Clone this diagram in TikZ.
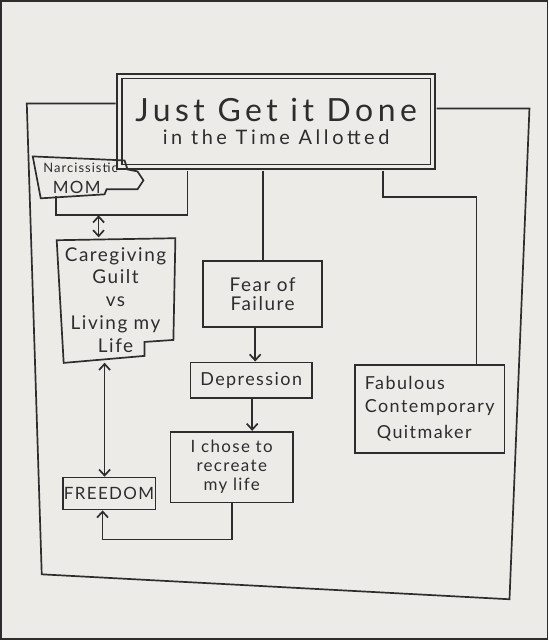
\documentclass[tikz,border=0pt]{standalone}
\usepackage{fontspec}
\setmainfont{Lato}[LetterSpace=8]
\newfontfamily\titlefont{Lato}[LetterSpace=14]
\usetikzlibrary{arrows.meta}
\definecolor{paper}{RGB}{236,235,232}
\definecolor{ink}{RGB}{45,45,45}
\begin{document}
\begin{tikzpicture}[x=1pt,y=-1pt,
  line width=1.7pt,
  every path/.style={draw=ink, line width=1.7pt},
  every node/.style={text=ink},
  box/.style={draw=ink, rectangle, inner sep=0pt, align=center, font=\fontsize{18}{21}\selectfont},
  plain/.style={rectangle, inner sep=0pt, align=center},
  arr/.style={-{Straight Barb[length=6pt,width=11pt]}},
  dbl/.style={{Straight Barb[length=6pt,width=11pt]}-{Straight Barb[length=6pt,width=11pt]}}]
\fill[paper, draw=none] (0,0) rectangle (548,640);
\useasboundingbox (0,0) rectangle (548,640);

% title
\node[box, double=paper, double distance=3pt, minimum width=314pt, minimum height=91pt] (title) at (276,121)
  {\titlefont\fontsize{32}{30}\selectfont Just Get it Done\\[2pt]\titlefont\addfontfeatures{LetterSpace=18}\fontsize{20}{22}\selectfont in the Time Allotted};

% narcissistic mom
\node[plain, font=\fontsize{13}{14}\selectfont] (mom) at (80,167) {Narcissistic};
\node[plain, font=\fontsize{17}{18}\selectfont] (mom2) at (76,187) {MOM};
\draw (32,156) -- (124,160) -- (127,169) -- (137,171) -- (143,180) -- (137,189) -- (106,189) -- (104,194) -- (40,198) -- cycle;

% caregiving guilt
\node[plain, minimum width=119pt, minimum height=124pt, font=\fontsize{19}{23}\selectfont] (care) at (115,300) {Caregiving\\Guilt\\vs\\Living my\\Life};
\draw (56,240) -- (175,238) -- (173,340) -- (144,342) -- (144,356) -- (63,363) -- cycle;

\node[box, minimum width=93pt, minimum height=32pt, font=\fontsize{17}{20}\selectfont] (free) at (108.5,494) {FREEDOM};
\node[box, minimum width=119pt, minimum height=66pt, font=\fontsize{19}{19}\selectfont] (fear) at (262.5,294) {Fear of\\Failure};
\node[box, minimum width=122pt, minimum height=36pt] (dep) at (251,380.5) {Depression};
\node[box, minimum width=123pt, minimum height=71pt, font=\fontsize{17}{19}\selectfont] (ichose) at (231.5,467.5) {I chose to\\recreate\\my life};
\node[box, minimum width=150pt, minimum height=88pt, align=left] (fab) at (430,409) {Fabulous\\[2pt]Contemporary\\[6pt]\hspace{12pt}Quitmaker};

% outer loop
\coordinate (o1) at (26,103);
\coordinate (o2) at (41,575);
\coordinate (o3) at (510,600);
\coordinate (o4) at (530,108);
\draw ([xshift=-3pt]o1 -| title.west) -- (o1) -- (o2) -- (o3) -- (o4) -- ([xshift=3pt]o4 -| title.east);

% title -> mom
\coordinate (j1) at (187,215);
\coordinate (j2) at (55,215);
\coordinate (j2t) at (55,196);
\draw ([yshift=-3pt]j1 |- title.south) -- (j1) -- (j2) -- (j2t);
% mom <-> care
\coordinate (j3) at (98,215);
\draw[dbl] (j3) -- (j3 |- care.north);
% care <-> freedom
\coordinate (j4) at (104,0);
\draw[dbl] (care.south -| j4) -- (free.north -| j4);
% title -> fear
\draw ([yshift=-3pt]fear.north |- title.south) -- (fear.north);
% fear -> depression
\coordinate (j5) at (255,0);
\draw[arr] (fear.south -| j5) -- (dep.north -| j5);
% depression -> i chose
\coordinate (j6) at (252,0);
\draw[arr] (dep.south -| j6) -- (ichose.north -| j6);
% i chose -> freedom
\coordinate (j7) at (232,540);
\coordinate (j8) at (102,540);
\draw[arr] (ichose.south -| j7) -- (j7) -- (j8) -- (j8 |- free.south);
% title -> fabulous
\coordinate (j9) at (383,197);
\coordinate (j10) at (477,197);
\draw ([yshift=-3pt]j9 |- title.south) -- (j9) -- (j10) -- (j10 |- fab.north);
\end{tikzpicture}
\end{document}
